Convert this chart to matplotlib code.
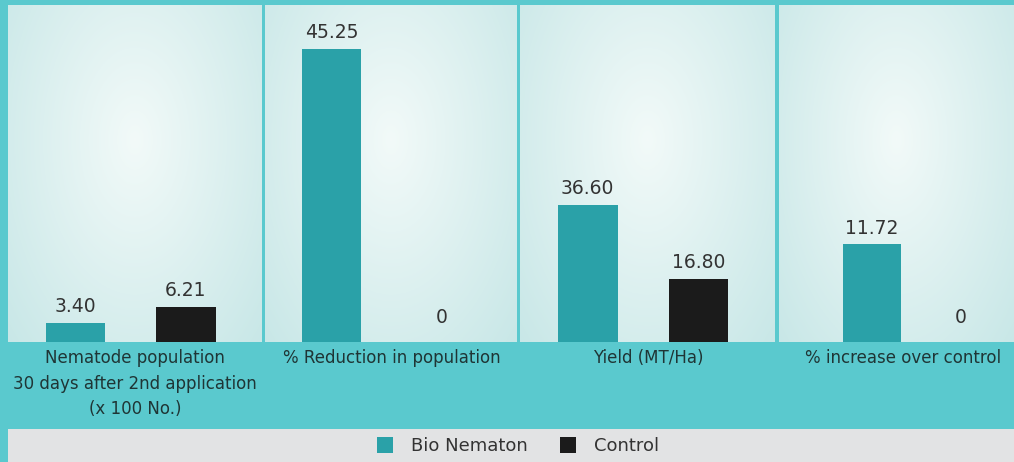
import matplotlib
matplotlib.use('Agg')
import matplotlib.pyplot as plt
import numpy as np
from matplotlib.patches import Rectangle, Patch

plt.rcParams['font.family'] = ['DejaVu Sans']

# data
categories = ['Nematode population\n30 days after 2nd application\n(x 100 No.)',
              '% Reduction in population',
              'Yield (MT/Ha)',
              '% increase over control']
bio = [3.40, 45.25, 36.60, 11.72]
control = [6.21, 0, 16.80, 0]
series = ['Bio Nematon', 'Control']

# style
bg = '#5ac9ce'
teal = '#2aa1a8'
black = '#1b1b1b'
txt = '#333333'

W, H = 1014, 462
fig = plt.figure(figsize=(W / 100, H / 100), dpi=100)
fig.patch.set_facecolor(bg)

# panel pixel extents (left, right), y limits, x limits and bar widths
panels = [(8, 262), (265, 517), (520, 775), (779, 1014)]
ylims = [60, 52, 90, 40.5]
xlims = [(-0.61, 1.69), (-0.61, 1.69), (-0.61, 1.69), (-1.045, 1.595)]
widths = [0.54, 0.54, 0.54, 0.66]
top_px, bot_px = 5, 342

# radial gradient for panel background (row 0 = top)
yy, xx = np.mgrid[0:1:200j, 0:1:200j]
r = np.sqrt(((xx - 0.5) / 0.75) ** 2 + ((yy - 0.4) / 0.95) ** 2)
r = np.clip(r, 0, 1)
c0 = np.array([0.95, 0.98, 0.975])
c1 = np.array([0.77, 0.90, 0.90])
grad = c0[None, None, :] * (1 - r[..., None]) + c1[None, None, :] * r[..., None]

for i, (l, rgt) in enumerate(panels):
    ax = fig.add_axes([l / W, 1 - bot_px / H, (rgt - l) / W, (bot_px - top_px) / H])
    ax.imshow(grad, extent=[0, 1, 0, 1], transform=ax.transAxes, aspect='auto', zorder=0)
    vals = [bio[i], control[i]]
    bars = ax.bar([0, 1], vals, width=widths[i], color=[teal, black], zorder=2)
    for b, v in zip(bars, vals):
        lab = '0' if v == 0 else '%.2f' % v
        off = 11 if v == 0 else 5
        ax.annotate(lab, (b.get_x() + b.get_width() / 2, v), xytext=(0, off),
                    textcoords='offset points', ha='center', va='bottom',
                    fontsize=13.5, color=txt, zorder=3)
    ax.set_xlim(*xlims[i])
    ax.set_ylim(0, ylims[i])
    ax.set_xticks([])
    ax.set_yticks([])
    for s in ax.spines.values():
        s.set_visible(False)

# category labels in strip
label_x = [135, 392, 648, 903]
for x, c in zip(label_x, categories):
    fig.text(x / W, 1 - 349 / H, c, ha='center', va='top', fontsize=12,
             color='#1f3535', linespacing=1.55)

# legend strip
fig.patches.append(Rectangle((8 / W, 0), 1, 33 / H, transform=fig.transFigure,
                             facecolor='#e2e3e4', edgecolor='none', zorder=0))
handles = [Patch(facecolor=teal, label=series[0]), Patch(facecolor=black, label=series[1])]
fig.legend(handles=handles, loc='center', bbox_to_anchor=(518 / W, 16 / H), ncol=2,
           frameon=False, fontsize=13, handlelength=0.9, handleheight=1.0,
           handletextpad=1.0, columnspacing=1.8, labelcolor=txt)

fig.savefig('out.png', dpi=100, facecolor=fig.get_facecolor())
